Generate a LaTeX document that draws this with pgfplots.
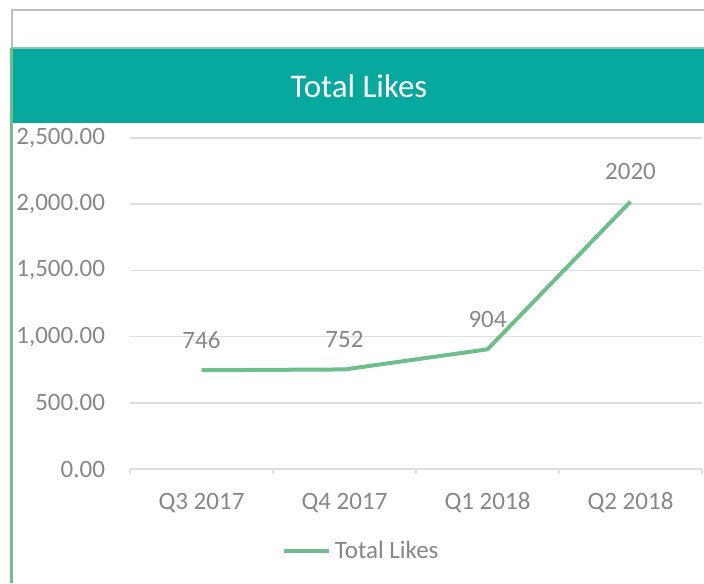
\documentclass[border=0pt]{standalone}
\usepackage{fontspec}
\setmainfont{Carlito}
\usepackage{pgfplots}
\pgfplotsset{compat=1.18}
\definecolor{hdrteal}{RGB}{7,168,157}
\definecolor{likegreen}{RGB}{110,190,140}
\definecolor{txtgray}{RGB}{135,135,135}
\definecolor{gridgray}{RGB}{222,222,222}
\definecolor{framegray}{RGB}{190,190,190}
\begin{document}
\begin{tikzpicture}[x=0.5pt,y=0.5pt]
\path[use as bounding box] (0,0) rectangle (704,583);
% outer frame and header band
\draw[framegray, line width=1pt] (12,535) -- (12,573) -- (704,573);
\fill[hdrteal] (12,460) rectangle (704,534);
\draw[likegreen!80!white, line width=1pt] (11,534.5) -- (704,534.5);
\draw[likegreen, line width=1.5pt] (11.5,0) -- (11.5,535);
\node[text=white, font=\fontsize{16.5}{19}\selectfont] at (359,497) {Total Likes};

\begin{axis}[
    at={(65pt,57pt)}, anchor=south west,
    scale only axis,
    width=286pt, height=165.5pt,
    xmin=-0.5, xmax=3.5,
    ymin=0, ymax=2500,
    clip=false,
    axis line style={draw=none},
    xtick={0,1,2,3},
    xticklabels={Q3 2017,Q4 2017,Q1 2018,Q2 2018},
    minor xtick={-0.5,0.5,1.5,2.5,3.5},
    xtick pos=bottom, ytick pos=left,
    major tick length=0pt,
    minor tick length=2.5pt,
    tick align=outside,
    minor tick style={gridgray, line width=0.75pt},
    ytick={0,500,...,2500},
    ymajorgrids,
    grid style={gridgray, line width=0.75pt},
    scaled y ticks=false,
    tick label style={font=\fontsize{12.5}{15}\selectfont, text=txtgray},
    y tick label style={
        /pgf/number format/fixed,
        /pgf/number format/fixed zerofill,
        /pgf/number format/precision=2,
        /pgf/number format/1000 sep={,},
        /pgf/number format/assume math mode=true,
        xshift=-9pt
    },
    x tick label style={anchor=base, yshift=-20pt},
    nodes near coords,
    point meta=explicit symbolic,
    every node near coord/.append style={anchor=base, yshift=11pt,
        font=\fontsize{12.5}{15}\selectfont, text=txtgray},
    legend style={draw=none, at={(0.406,-0.248)}, anchor=center,
        font=\fontsize{12.5}{15}\selectfont, text=txtgray,
        inner sep=0pt},
    legend image code/.code={\draw[#1, line width=2pt] (0pt,0pt) -- (22.5pt,0pt);},
]
\addplot[likegreen, line width=2pt, line join=round, mark=none]
    coordinates {(0,746)[746] (1,752)[752] (2,904)[904] (3,2020)[2020]};
\legend{Total Likes}
\end{axis}
\end{tikzpicture}
\end{document}
